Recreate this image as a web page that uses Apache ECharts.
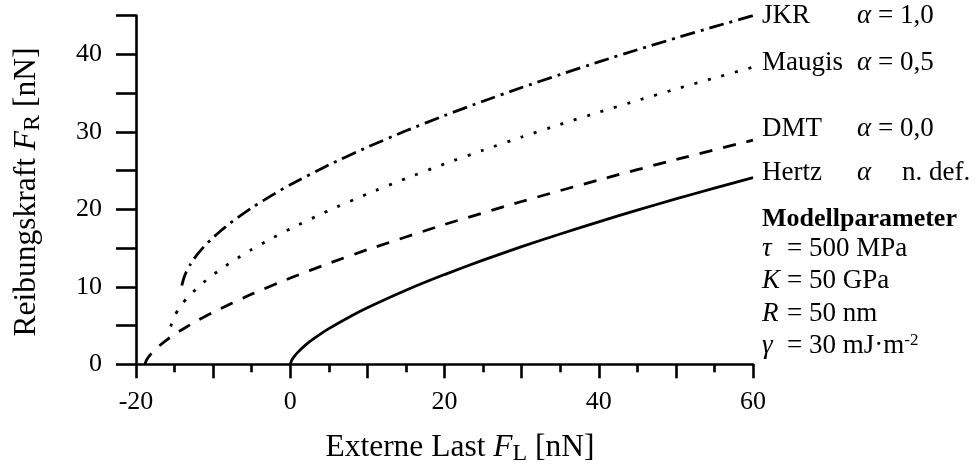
<!DOCTYPE html>
<html>
<head>
<meta charset="utf-8">
<script src="https://cdn.jsdelivr.net/npm/echarts@6/dist/echarts.min.js"></script>
<style>
  html, body { margin: 0; padding: 0; background: #fff; }
  #chart { width: 976px; height: 472px; }
</style>
</head>
<body>
<div id="chart"></div>
<script>
// Externe Last F_L [nN] / Reibungskraft F_R [nN]
var loadJKR = [-14.05, -14, -13.75, -13.5, -13, -12.5, -12, -11, -10, -9, -8, -6.5, -5, -2.5, 0, 5, 10, 15, 20, 25, 30, 35, 40, 45, 50, 55, 60];
var fricJKR = [10.16, 10.41, 11.27, 11.88, 12.82, 13.58, 14.24, 15.38, 16.36, 17.24, 18.05, 19.16, 20.19, 21.74, 23.17, 25.73, 28.02, 30.13, 32.10, 33.95, 35.72, 37.40, 39.03, 40.59, 42.10, 43.57, 45.0];

var loadMaugis = [-15.5, -15.25, -15, -14.5, -14, -13.5, -13, -12, -11, -10, -9, -8, -6.5, -5, -2.5, 0, 5, 10, 15, 20, 25, 30, 35, 40, 45, 50, 55, 60];
var fricMaugis = [4.88, 5.70, 6.26, 7.11, 7.81, 8.41, 8.95, 9.91, 10.77, 11.55, 12.27, 12.96, 13.91, 14.81, 16.20, 17.49, 19.85, 21.99, 23.98, 25.86, 27.63, 29.33, 30.96, 32.53, 34.04, 35.52, 36.95, 38.34];

var loadDMT = [-18.85, -18.6, -18, -17.5, -17, -16, -15, -14, -12, -10, -5, 0, 5, 10, 20, 30, 40, 50, 60];
var fricDMT = [0, 0.62, 1.41, 1.92, 2.37, 3.16, 3.86, 4.50, 5.67, 6.72, 9.06, 11.13, 13.02, 14.79, 18.04, 21.01, 23.79, 26.42, 28.93];

var loadHertz = [0, 0.25, 0.5, 1, 2, 3, 5, 7.5, 10, 15, 20, 25, 30, 35, 40, 45, 50, 55, 60];
var fricHertz = [0, 0.62, 0.99, 1.57, 2.50, 3.27, 4.60, 6.02, 7.30, 9.56, 11.58, 13.44, 15.18, 16.82, 18.39, 19.89, 21.34, 22.74, 24.1];

var xTicks = [-20, 0, 20, 40, 60];
var yTicks = [0, 10, 20, 30, 40];

var serif = "'Liberation Serif', 'Times New Roman', serif";

function pairs(xs, ys) {
  return xs.map(function (x, i) { return [x, ys[i]]; });
}

var chart = echarts.init(document.getElementById("chart"));

var lineBase = { color: "#000", width: 2.8 };

var option = {
  animation: false,
  backgroundColor: "#fff",
  grid: { left: 136, right: 223, top: 15.6, bottom: 107.7, containLabel: false },
  xAxis: {
    type: "value",
    min: -20,
    max: 60,
    interval: 10,
    axisLine: { onZero: false, lineStyle: { color: "#000", width: 2.6 } },
    axisTick: { show: true, length: 14, lineStyle: { color: "#000", width: 2.6 } },
    minorTick: { show: true, splitNumber: 2, length: 8, lineStyle: { color: "#000", width: 2.6 } },
    axisLabel: {
      margin: 25,
      color: "#000",
      fontFamily: serif,
      fontSize: 26,
      formatter: function (v) { return xTicks.indexOf(v) >= 0 ? String(v) : ""; }
    },
    splitLine: { show: false }
  },
  yAxis: {
    type: "value",
    min: 0,
    max: 45,
    interval: 5,
    axisLine: { show: true, onZero: false, lineStyle: { color: "#000", width: 2.6 } },
    axisTick: { show: true, length: 20, lineStyle: { color: "#000", width: 2.6 } },
    axisLabel: {
      margin: 34,
      color: "#000",
      fontFamily: serif,
      fontSize: 26,
      formatter: function (v) { return yTicks.indexOf(v) >= 0 ? String(v) : ""; }
    },
    splitLine: { show: false }
  },
  series: [
    {
      name: "JKR",
      type: "line",
      showSymbol: false,
      smooth: 0.2,
      data: pairs(loadJKR, fricJKR),
      lineStyle: Object.assign({}, lineBase, { type: [15, 6, 3, 6] })
    },
    {
      name: "Maugis",
      type: "line",
      showSymbol: false,
      smooth: 0.2,
      data: pairs(loadMaugis, fricMaugis),
      lineStyle: Object.assign({}, lineBase, { type: [3, 11] })
    },
    {
      name: "DMT",
      type: "line",
      showSymbol: false,
      smooth: 0.2,
      data: pairs(loadDMT, fricDMT),
      lineStyle: Object.assign({}, lineBase, { type: [13, 11] })
    },
    {
      name: "Hertz",
      type: "line",
      showSymbol: false,
      smooth: 0.2,
      data: pairs(loadHertz, fricHertz),
      lineStyle: Object.assign({}, lineBase, { type: "solid" })
    }
  ],
  graphic: []
};

// Beschriftungen rechts
function txt(x, y, text, extra) {
  return {
    type: "text",
    x: x,
    y: y,
    silent: true,
    style: Object.assign({
      text: text,
      fill: "#000",
      fontFamily: serif,
      fontSize: 27,
      align: "left",
      verticalAlign: "middle",
      rich: {
        i: { fontFamily: serif, fontSize: 27, fontStyle: "italic" },
        sup: { fontFamily: serif, fontSize: 17, verticalAlign: "top" }
      }
    }, extra || {})
  };
}

var g = option.graphic;
g.push(txt(762, 16, "JKR"));
g.push(txt(857, 16, "{i|α} = 1,0"));
g.push(txt(762, 63, "Maugis"));
g.push(txt(857, 63, "{i|α} = 0,5"));
g.push(txt(762, 129, "DMT"));
g.push(txt(857, 129, "{i|α} = 0,0"));
g.push(txt(762, 173, "Hertz"));
g.push(txt(857, 173, "{i|α}"));
g.push(txt(902, 173, "n. def."));
g.push(txt(762, 219, "Modellparameter", { fontWeight: "bold", fontSize: 26 }));
g.push(txt(762, 249, "{i|τ}"));
g.push(txt(787, 249, "= 500 MPa"));
g.push(txt(762, 281, "{i|K}"));
g.push(txt(787, 281, "= 50 GPa"));
g.push(txt(762, 314, "{i|R}"));
g.push(txt(787, 314, "= 50 nm"));
g.push(txt(762, 346, "{i|γ}"));
g.push(txt(787, 346, "= 30 mJ·m{sup|-2}"));

// Achsentitel
var titleRich = {
  n: { fontFamily: serif, fontSize: 31.5, verticalAlign: "top", lineHeight: 34 },
  i: { fontFamily: serif, fontSize: 31.5, fontStyle: "italic", verticalAlign: "top", lineHeight: 34 },
  s: { fontFamily: serif, fontSize: 24, verticalAlign: "bottom", lineHeight: 24, padding: [17, 0, 0, 0] }
};
g.push({
  type: "text",
  x: 460,
  y: 449,
  silent: true,
  style: {
    text: "{n|Externe Last }{i|F}{s|L}{n| [nN]}",
    fill: "#000",
    fontFamily: serif,
    fontSize: 31.5,
    align: "center",
    verticalAlign: "middle",
    rich: titleRich
  }
});
g.push({
  type: "text",
  x: 28,
  y: 192,
  rotation: Math.PI / 2,
  silent: true,
  style: {
    text: "{n|Reibungskraft }{i|F}{s|R}{n| [nN]}",
    fill: "#000",
    fontFamily: serif,
    fontSize: 31.5,
    align: "center",
    verticalAlign: "middle",
    rich: titleRich
  }
});

chart.setOption(option);
</script>
</body>
</html>
